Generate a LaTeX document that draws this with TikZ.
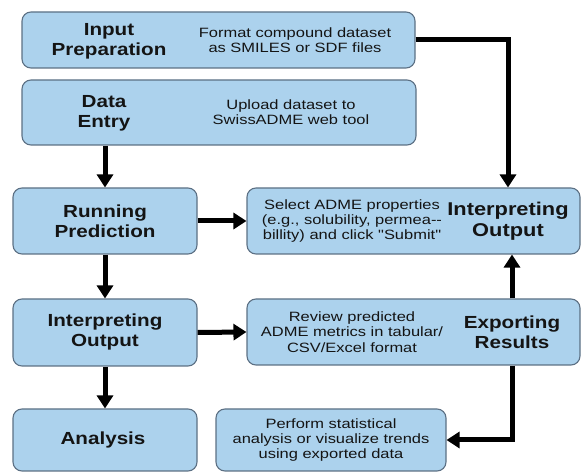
\documentclass[tikz,border=0pt]{standalone}
\usepackage{tikz}
\usetikzlibrary{positioning,arrows.meta,calc}
\usepackage{xcolor}
\usepackage{fontspec}
\setmainfont{Liberation Sans}
\newfontfamily\ttlface[FakeStretch=1.18]{Liberation Sans}
\newfontfamily\dscface[FakeStretch=1.22]{Liberation Sans}
\definecolor{boxblue}{RGB}{172,210,237}
\definecolor{edgegray}{RGB}{92,112,132}
\definecolor{inkdark}{RGB}{20,20,20}

\tikzset{
    stage/.style={draw=edgegray,fill=boxblue,rounded corners=9pt,line width=1.1pt,inner sep=0pt},
    ttl/.style={font=\ttlface\fontsize{17.5}{20}\selectfont\bfseries,align=center,text=inkdark,inner sep=0pt},
    dsc/.style={font=\dscface\fontsize{13.5}{15.2}\selectfont,align=center,text=inkdark,inner sep=0pt},
    flow/.style={line width=5pt,-{Triangle[width=16pt,length=13pt]}}
}

\begin{document}
\begin{tikzpicture}[x=1pt,y=-1pt]
    \useasboundingbox (0,0) rectangle (582,473);
    \node[stage,minimum width=393pt,minimum height=56pt] (prep) at (218.5,40) {};
    \node[ttl] (prepttl) at (109,41) {Input\\Preparation};
    \node[dsc] (prepdsc) at (295,40) {Format compound dataset\\as SMILES or SDF files};

    \node[stage,minimum width=394pt,minimum height=65pt] (entry) at (219,112.5) {};
    \node[ttl] (entryttl) at (104,113) {Data\\Entry};
    \node[dsc] (entrydsc) at (291,112) {Upload dataset to\\SwissADME web tool};

    \node[stage,minimum width=184pt,minimum height=66pt] (run) at (105,221) {};
    \node[ttl] (runttl) at (105,221) {Running\\Prediction};

    \node[stage,minimum width=333pt,minimum height=66pt] (sel) at (413.5,221) {};
    \node[dsc] (seldsc) at (352,221) {Select ADME properties\\(e.g., solubility, permea--\\billity) and click "Submit"};
    \node[ttl,font=\ttlface\fontsize{18.5}{21}\selectfont\bfseries] (selttl) at (508,221) {Interpreting\\Output};

    \node[stage,minimum width=184pt,minimum height=67pt] (intl) at (105,332.5) {};
    \node[ttl] (intlttl) at (105,332) {Interpreting\\Output};

    \node[stage,minimum width=333pt,minimum height=66pt] (exp) at (413.5,332) {};
    \node[dsc] (expdsc) at (352,332) {Review predicted\\ADME metrics in tabular/\\CSV/Excel format};
    \node[ttl] (expttl) at (512,332) {Exporting\\Results};

    \node[stage,minimum width=184pt,minimum height=62pt] (ana) at (105,440) {};
    \node[ttl] (anattl) at (103,440) {Analysis};

    \node[stage,minimum width=230pt,minimum height=62pt] (stat) at (331,440) {};
    \node[dsc] (statdsc) at (331,440) {Perform statistical\\analysis or visualize trends\\using exported data};

    \draw[flow] (run.north |- entry.south) -- (run.north);
    \draw[flow] (prep.east) -| (sel.north -| selttl);
    \draw[flow] (run.east) -- (sel.west);
    \draw[flow] (run.south) -- (intl.north);
    \draw[flow] (exp.north -| expttl) -- (sel.south -| expttl);
    \draw[flow] (intl.east) -- (exp.west);
    \draw[flow] (intl.south) -- (ana.north);
    \draw[flow] (exp.south -| expttl) |- (stat.east);
\end{tikzpicture}
\end{document}
